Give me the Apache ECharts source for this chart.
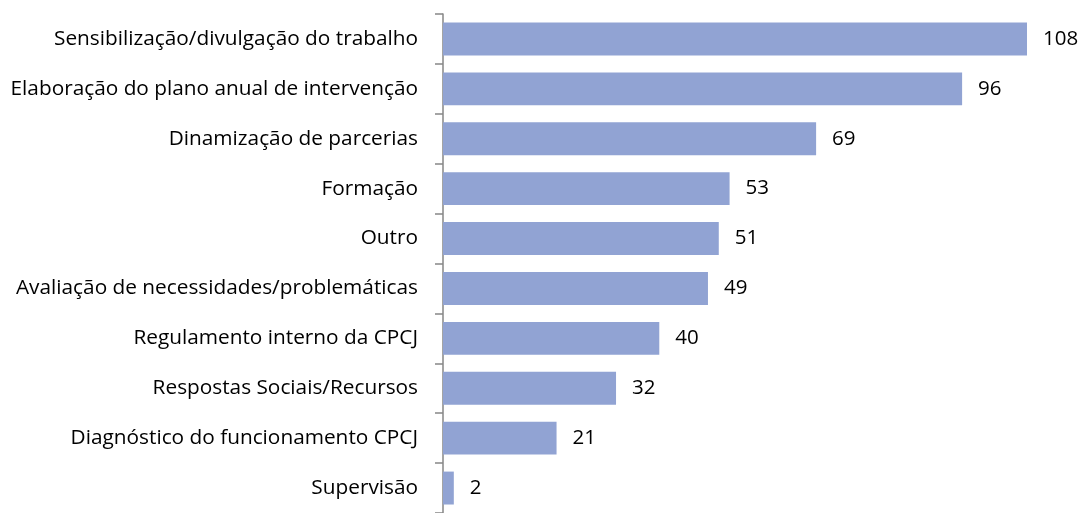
<!DOCTYPE html>
<html>
<head>
<meta charset="utf-8">
<script src="https://cdn.jsdelivr.net/npm/echarts@6/dist/echarts.min.js"></script>
<style>
  html, body { margin: 0; padding: 0; background: #fff; }
  #chart { width: 1082px; height: 513px; }
</style>
</head>
<body>
<div id="chart"></div>
<script>
  // categories top to bottom, as in the picture
  const categories = [
    'Sensibilização/divulgação do trabalho',
    'Elaboração do plano anual de intervenção',
    'Dinamização de parcerias',
    'Formação',
    'Outro',
    'Avaliação de necessidades/problemáticas',
    'Regulamento interno da CPCJ',
    'Respostas Sociais/Recursos',
    'Diagnóstico do funcionamento CPCJ',
    'Supervisão'
  ]
  const values = [108, 96, 69, 53, 51, 49, 40, 32, 21, 2]

  const chart = echarts.init(document.getElementById('chart'))
  chart.setOption({
    animation: false,
    grid: { left: 443, right: 55, top: 14, bottom: 0 },
    xAxis: {
      type: 'value',
      min: 0,
      max: 108,
      show: false
    },
    yAxis: {
      type: 'category',
      inverse: true,
      data: categories,
      axisLine: { lineStyle: { color: '#868686', width: 1.5 } },
      axisTick: { show: true, length: 8, lineStyle: { color: '#868686', width: 1.5 } },
      axisLabel: {
        margin: 25,
        color: '#000',
        fontFamily: 'Open Sans',
        fontSize: 20.8
      }
    },
    series: [{
      type: 'bar',
      data: values,
      barCategoryGap: '34%',
      itemStyle: { color: '#91A3D3' },
      label: {
        show: true,
        position: 'right',
        distance: 16,
        color: '#000',
        fontFamily: 'Open Sans',
        fontSize: 20.5
      }
    }]
  })
</script>
</body>
</html>
